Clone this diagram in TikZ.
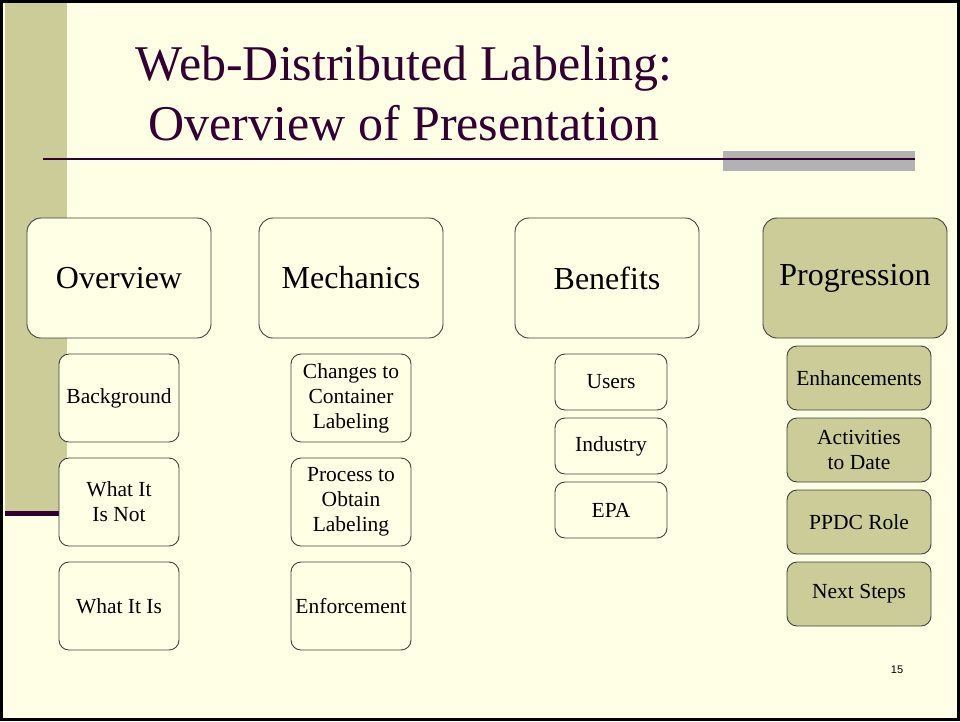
\documentclass[tikz,border=0pt]{standalone}
\usepackage{fontspec}
\setmainfont{Liberation Serif}
\newfontfamily\pagenumfont{Liberation Sans}
\usetikzlibrary{positioning}
\definecolor{slidebg}{HTML}{FFFFE5}
\definecolor{olivebar}{HTML}{CCCC99}
\definecolor{plum}{HTML}{330033}
\definecolor{bargray}{HTML}{B2B2B2}
\tikzstyle{topic} = [rectangle, rounded corners=14pt, minimum width=184pt, minimum height=120pt, text centered, draw=black!75, line width=0.9pt, fill=slidebg, font=\fontsize{32}{38}\selectfont]
\tikzstyle{subtopic} = [rectangle, rounded corners=10pt, minimum width=120pt, minimum height=88pt, text centered, align=center, draw=black!75, line width=0.9pt, fill=slidebg, inner sep=2pt, font=\fontsize{21.5}{25}\selectfont]
\tikzstyle{benefit} = [subtopic, minimum width=112pt, minimum height=56pt]
\tikzstyle{nextstep} = [subtopic, minimum width=144pt, minimum height=64pt, fill=olivebar]

\begin{document}
\begin{tikzpicture}[x=1pt, y=-1pt]
  \useasboundingbox (0,0) rectangle (960,721);
  % slide background
  \fill[slidebg] (0,0) rectangle (960,721);
  \fill[olivebar] (5,3) rectangle (67,511);
  \fill[plum] (5,511) rectangle (62,516);
  \fill[bargray] (723,151) rectangle (915,171);
  \draw[plum, line width=2pt] (43,158.5) -- (915,158.5);
  \draw[black, line width=3pt] (1.5,1.5) rectangle (958.5,719.5);

  \node (title) [align=center, text=plum, font=\fontsize{50}{60}\selectfont] at (404,93) {Web-Distributed Labeling:\\Overview of Presentation};

  % top row
  \node (overview) [topic] at (119,278) {Overview};
  \node (mechanics) [topic] at (351,278) {Mechanics};
  \node (benefits) [topic] at (607,278) {Benefits};
  \node (progression) [topic, fill=olivebar] at (855,278) {Progression};

  % overview
  \node (background) [subtopic] at (119,398) {Background};
  \node (isnot) [subtopic] at (119,502) {What It\\Is Not};
  \node (is) [subtopic] at (119,606) {What It Is};

  % mechanics
  \node (changes) [subtopic] at (351,398) {Changes to\\Container\\Labeling};
  \node (process) [subtopic] at (351,502) {Process to\\Obtain\\Labeling};
  \node (enforcement) [subtopic] at (351,606) {Enforcement};

  % benefits
  \node (users) [benefit] at (611,382) {Users};
  \node (industry) [benefit] at (611,446) {Industry};
  \node (epa) [benefit] at (611,510) {EPA};

  % progression
  \node (enhance) [nextstep] at (859,378) {Enhancements};
  \node (activities) [nextstep] at (859,450) {Activities\\to Date};
  \node (ppdc) [nextstep] at (859,522) {PPDC Role};
  \node (next) [nextstep] at (859,594) {Next Steps};

  \node (pagenum) [font=\pagenumfont\fontsize{11}{13}\selectfont] at (897,670) {15};
\end{tikzpicture}
\end{document}
